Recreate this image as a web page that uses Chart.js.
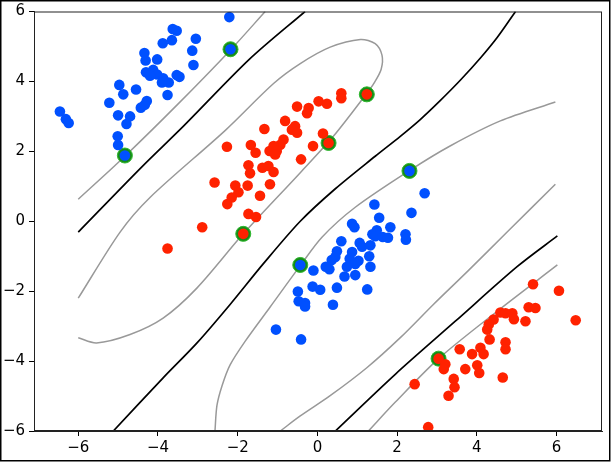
<!DOCTYPE html>
<html>
<head>
<meta charset="utf-8">
<script src="https://cdn.jsdelivr.net/npm/chart.js@4.4.0/dist/chart.umd.min.js"></script>
<style>
  html, body { margin: 0; padding: 0; background: #fff; }
  #wrap { width: 611px; height: 462px; }
</style>
</head>
<body>
<div id="wrap"><canvas id="svmChart" width="611" height="462"></canvas></div>
<script>
// class A (blue) points
const blueX = [-2.21, -3.63, -3.53, -3.65, -3.88, -3.05, -3.14, -3.11, -4.34, -4.31, -4.02, -4.30, -4.12, -4.02, -4.20, -3.87, -3.73, -3.90, -3.53, -3.46,
  -4.55, -4.97, -4.87, -3.76, -5.22, -4.28, -4.43, -4.33, -6.46, -6.31, -6.24, -5.00, -4.70, -4.79, -5.01, -5.00, -4.83, -2.18,
  2.31, 2.69, 1.43, 2.36, 1.55, 1.83, 0.87, 0.93, 1.49, 1.38, 1.45, 1.64, 1.77, 2.21, 2.22, 0.60, 1.06, 1.12, 1.33, 0.49, 0.45, 0.36,
  0.21, 0.30, 0.87, 0.81, 1.03, 0.95, 0.74, 0.68, 0.95, 1.30, 1.33, -0.43, -0.10, -0.12, 0.07, 0.49, 1.25, -0.49, -0.47, -0.31, -0.31,
  0.39, -1.04, -0.41];
const blueY = [5.84, 5.50, 5.45, 5.18, 5.09, 5.22, 4.88, 4.47, 4.81, 4.60, 4.63, 4.26, 4.33, 4.20, 4.16, 4.09, 3.97, 3.97, 4.18, 4.13,
  3.77, 3.90, 3.63, 3.61, 3.39, 3.44, 3.25, 3.33, 3.14, 2.92, 2.81, 3.03, 3.00, 2.78, 2.43, 2.18, 1.88, 4.92,
  1.44, 0.80, 0.48, 0.24, 0.10, -0.17, -0.07, -0.17, -0.26, -0.37, -0.43, -0.45, -0.47, -0.37, -0.53, -0.57, -0.62, -0.73, -0.69, -0.86, -1.02, -1.11,
  -1.30, -1.37, -0.88, -1.07, -1.13, -1.22, -1.30, -1.58, -1.54, -1.00, -1.30, -1.25, -1.41, -1.87, -1.96, -1.90, -1.95, -2.01, -2.29, -2.34, -2.44,
  -2.39, -3.10, -3.38];

// class B (red) points
const redX = [1.24, 0.60, 0.60, -0.51, -0.22, -0.26, 0.03, 0.24, -0.81, -0.56, -0.64, -0.51, -1.33, 0.14, 0.28, -0.11, -0.85, -0.93, -1.10, -1.20,
  -1.02, -1.06, -1.67, -1.55, -2.27, -0.41, -1.73, -1.69, -1.38, -1.23, -1.10, -2.58, -2.06, -1.75, -1.19, -1.98, -2.15, -2.26, -1.44, -1.73,
  -1.54, -2.89, -1.86, -3.76,
  5.41, 6.06, 6.48, 5.30, 5.47, 4.59, 4.72, 4.89, 4.93, 5.22, 4.42, 4.30, 4.26, 4.32, 4.72, 4.72, 3.57, 4.09, 4.17, 3.88, 3.04, 3.21,
  3.17, 4.01, 4.06, 3.71, 4.65, 3.42, 3.44, 2.44, 3.29, 2.78];
const redY = [3.63, 3.66, 3.52, 3.28, 3.24, 3.09, 3.43, 3.36, 2.87, 2.72, 2.62, 2.53, 2.64, 2.51, 2.24, 2.15, 2.34, 2.19, 2.15, 2.01,
  2.01, 1.91, 2.18, 1.96, 2.13, 1.77, 1.60, 1.37, 1.53, 1.58, 1.41, 1.11, 1.02, 1.02, 1.06, 0.83, 0.68, 0.49, 0.73, 0.21,
  0.12, -0.17, -0.36, -0.78,
  -1.80, -1.99, -2.83, -2.46, -2.48, -2.61, -2.63, -2.63, -2.80, -2.86, -2.81, -2.95, -3.10, -3.38, -3.46, -3.66, -3.66, -3.62, -3.80, -3.80, -3.93, -4.09,
  -4.23, -4.12, -4.34, -4.23, -4.47, -4.51, -4.75, -4.66, -4.99, -5.89];

// support vectors
const svX = [-2.18, -4.83, 1.24, 0.28, -1.86, 2.31, -0.43, 3.04];
const svY = [4.92, 1.88, 3.63, 2.24, -0.36, 1.44, -1.25, -3.93];

// decision function = 0
const zeroUpper = [[-6.0, -0.31], [-4.41, 1.55], [-3.36, 2.72], [-1.69, 4.65], [-0.31, 6.0]];
const zeroMiddle = [[-5.12, -6.0], [-3.87, -4.48], [-3.02, -3.48], [-2.19, -2.38], [-1.36, -1.22], [-0.43, 0.0], [0.45, 0.93],
  [1.45, 1.86], [2.08, 2.43], [2.58, 2.91], [3.08, 3.45], [3.59, 4.04], [4.09, 4.67], [4.52, 5.27], [4.97, 6.0]];
const zeroLower = [[0.45, -6.0], [1.96, -4.37], [3.46, -2.86], [5.01, -1.30], [6.02, -0.42]];

// decision function = +/-1
const marginTopLeft = [[-6.0, 0.63], [-4.83, 1.86], [-3.5, 3.35], [-2.18, 4.9], [-1.31, 6.0]];
const marginLoop = [[-6.0, -2.2], [-4.95, -0.31], [-4.2, 0.68], [-2.31, 2.6], [-1.10, 3.94], [-0.43, 4.51], [0.32, 4.98], [1.08, 5.2],
  [1.45, 5.08], [1.62, 4.75], [1.60, 4.35], [1.42, 3.95], [1.24, 3.66], [0.40, 2.43], [-0.43, 1.39], [-1.86, -0.36], [-3.03, -1.92],
  [-3.87, -2.77], [-4.70, -3.24], [-5.54, -3.48], [-6.0, -3.33]];
const marginMidUpper = [[-2.57, -6.0], [-2.52, -5.27], [-2.39, -4.70], [-2.19, -4.11], [-1.81, -3.43], [-1.19, -2.46], [-0.43, -1.27],
  [0.12, -0.45], [0.95, 0.40], [2.31, 1.45], [3.34, 2.16], [4.59, 2.87], [5.97, 3.41]];
const marginMidLower = [[-0.93, -6.0], [-0.43, -5.57], [0.32, -4.99], [1.24, -4.19], [2.08, -3.33], [2.91, -2.38], [3.76, -1.44],
  [4.76, -0.31], [5.97, 1.06]];
const marginBottom = [[1.28, -6.0], [1.95, -5.18], [3.04, -3.93], [4.47, -2.61], [6.02, -1.25]];

const xTicks = [-6, -4, -2, 0, 2, 4, 6];
const yTicks = [-6, -4, -2, 0, 2, 4, 6];

function pts(xs, ys) { return xs.map((x, i) => ({ x: x, y: ys[i] })); }
function pairs(arr) { return arr.map(p => ({ x: p[0], y: p[1] })); }
function fmt(v) { return v < 0 ? '\u2212' + (-v) : String(v); }

function contour(data, color, width) {
    return {
        data: pairs(data),
        showLine: true,
        borderColor: color,
        borderWidth: width,
        pointRadius: 0,
        tension: 0.3,
        fill: false,
        order: 3
    };
}

const frame = {
    id: 'frame',
    beforeDraw(chart) {
        const c = chart.ctx;
        c.save();
        c.fillStyle = '#fff';
        c.fillRect(0, 0, chart.width, chart.height);
        c.restore();
    },
    afterDraw(chart) {
        const c = chart.ctx, a = chart.chartArea;
        c.save();
        c.strokeStyle = '#222';
        c.lineWidth = 1;
        c.strokeRect(a.left + 0.5, a.top + 0.5, a.right - a.left - 1, a.bottom - a.top - 1);
        c.strokeStyle = '#000';
        c.lineWidth = 1.5;
        c.strokeRect(0.75, 0.75, chart.width - 2, chart.height - 2);
        c.restore();
    }
};

const font = { family: 'DejaVu Sans', size: 15, lineHeight: 1 };

new Chart(document.getElementById('svmChart').getContext('2d'), {
    type: 'scatter',
    data: {
        datasets: [
            {
                data: pts(blueX, blueY),
                backgroundColor: '#0050ff',
                borderWidth: 0,
                pointRadius: 5.3,
                order: 1
            },
            {
                data: pts(redX, redY),
                backgroundColor: '#ff2200',
                borderWidth: 0,
                pointRadius: 5.3,
                order: 1
            },
            {
                data: pts(svX, svY),
                backgroundColor: '#168c16',
                borderColor: '#2fb82f',
                borderWidth: 1,
                pointRadius: 7.5,
                order: 2
            },
            contour(zeroUpper, '#000', 1.7),
            contour(zeroMiddle, '#000', 1.7),
            contour(zeroLower, '#000', 1.7),
            contour(marginTopLeft, '#999', 1.5),
            contour(marginLoop, '#999', 1.5),
            contour(marginMidUpper, '#999', 1.5),
            contour(marginMidLower, '#999', 1.5),
            contour(marginBottom, '#999', 1.5)
        ]
    },
    options: {
        responsive: false,
        animation: false,
        devicePixelRatio: 1,
        layout: { padding: { top: 7, right: 9, left: 0, bottom: 0 } },
        plugins: { legend: { display: false }, tooltip: { enabled: false } },
        scales: {
            x: {
                type: 'linear',
                min: -7.11,
                max: 7.14,
                afterBuildTicks: axis => { axis.ticks = xTicks.map(v => ({ value: v })); },
                afterFit: axis => { axis.height = 31; },
                ticks: { callback: fmt, color: '#000', font: font, padding: 5, maxRotation: 0, autoSkip: false },
                grid: { drawOnChartArea: false, drawTicks: true, tickLength: 5, color: '#000' },
                border: { display: true, color: '#222', width: 1 }
            },
            y: {
                type: 'linear',
                min: -6,
                max: 6,
                afterBuildTicks: axis => { axis.ticks = yTicks.map(v => ({ value: v })); },
                afterFit: axis => { axis.width = 34; },
                ticks: { callback: fmt, color: '#000', font: font, padding: 4, autoSkip: false },
                grid: { drawOnChartArea: false, drawTicks: true, tickLength: 5, color: '#000' },
                border: { display: true, color: '#222', width: 1 }
            }
        }
    },
    plugins: [frame]
});
</script>
</body>
</html>
